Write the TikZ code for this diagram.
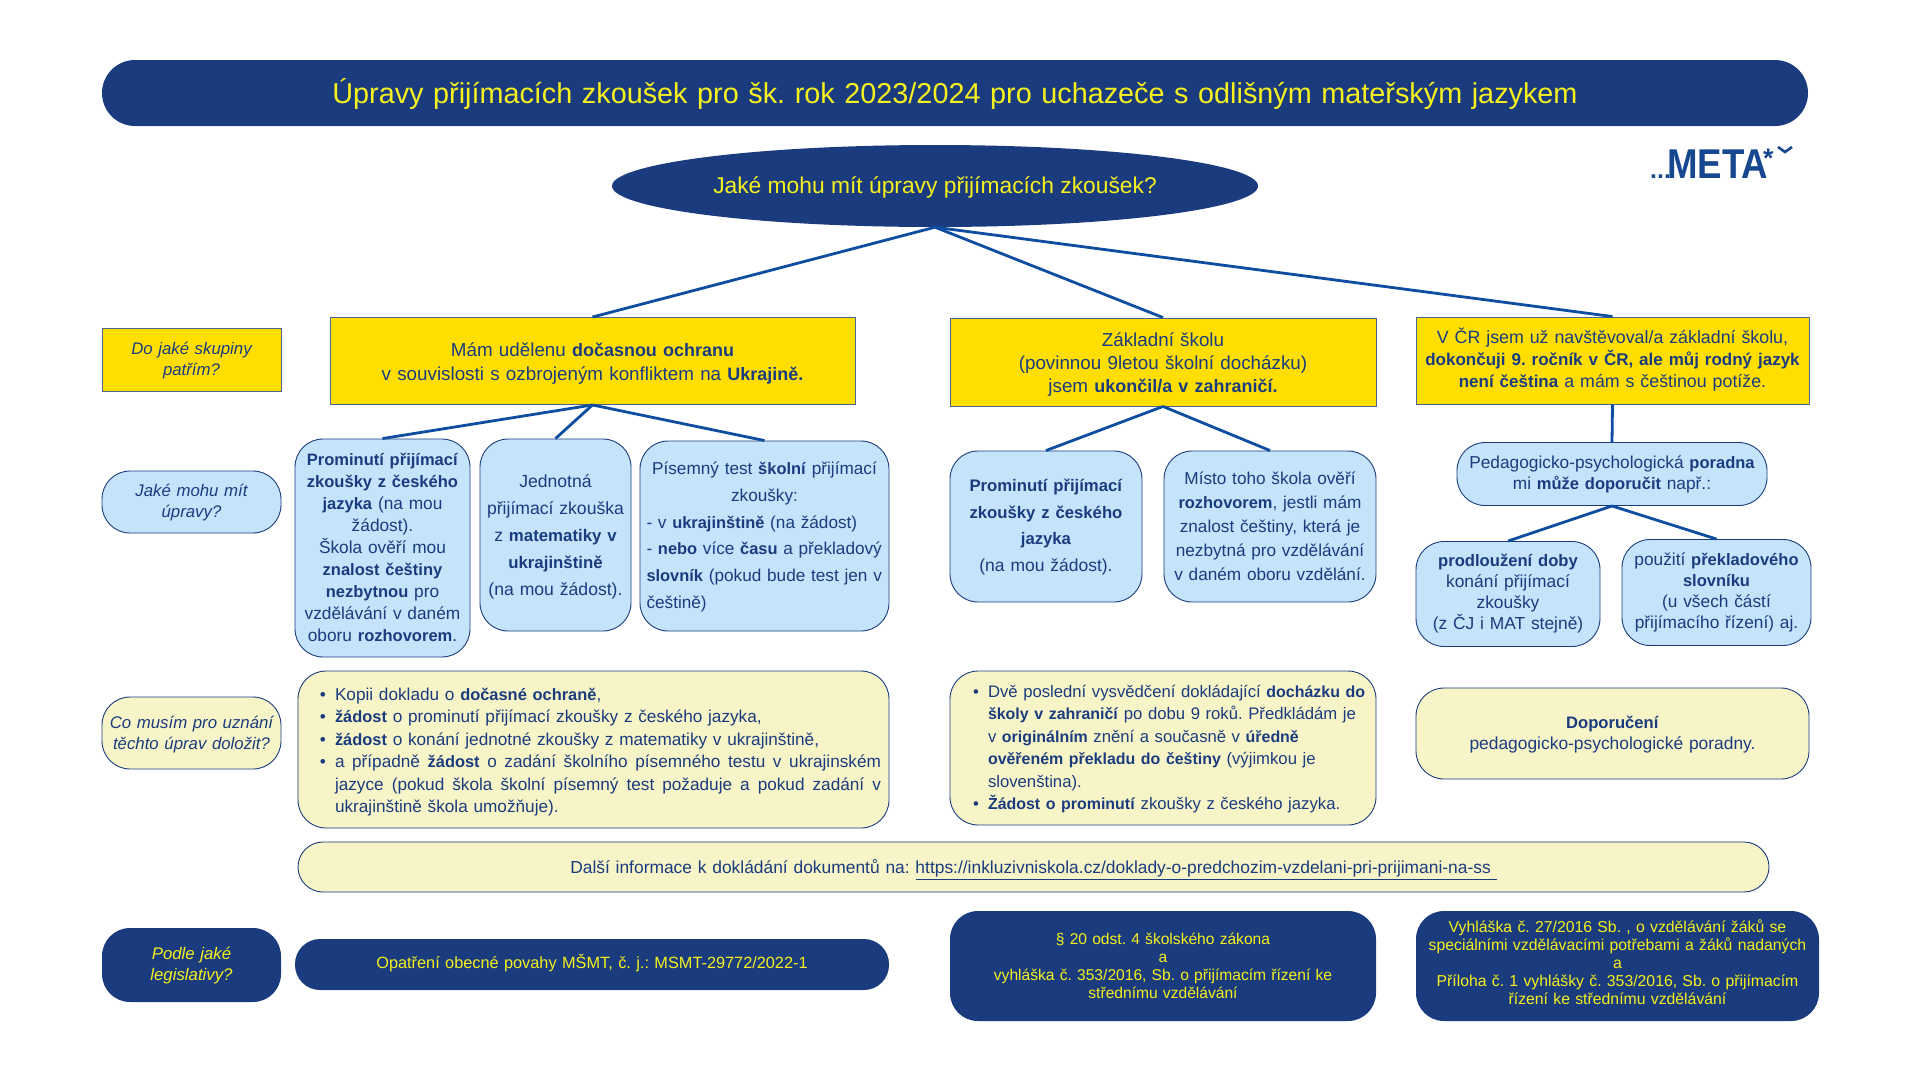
\documentclass[tikz,border=0pt]{standalone}
\usepackage{fontspec}
\setmainfont[BoldFont={Liberation Sans Bold}, BoldFeatures={Scale=0.955}]{Liberation Sans}
\usepackage{xcolor}
\usetikzlibrary{shapes.geometric}
\definecolor{navy}{HTML}{1A3C7E}
\definecolor{linkblue}{HTML}{0F4DA0}
\definecolor{metablue}{HTML}{17478F}
\definecolor{gold}{HTML}{FFDE00}
\definecolor{lightblue}{HTML}{C5E3FB}
\definecolor{cream}{HTML}{F7F5C8}
\definecolor{lemon}{HTML}{F5F01E}
\newcommand{\tsize}[2]{\fontsize{#1}{#2}\selectfont}
\newcommand{\fullline}[1]{\makebox[546pt][s]{\spaceskip=0.28em plus 1fil\relax #1}}
\newenvironment{dotlist}{\begin{list}{\textbullet}{\setlength{\leftmargin}{30pt}\setlength{\labelsep}{9pt}\setlength{\labelwidth}{13pt}\setlength{\itemsep}{0pt}\setlength{\parsep}{0pt}\setlength{\topsep}{0pt}\setlength{\partopsep}{0pt}\setlength{\rightmargin}{0pt}}}{\end{list}}
\tikzset{
	boxy/.style={inner sep=0pt, text=navy, align=center, font=\tsize{17.3}{22}},
	goldbox/.style={boxy, fill=gold, draw=navy!80, line width=0.9pt},
	bluebox/.style={boxy, fill=lightblue, draw=navy, line width=0.9pt, rounded corners=28pt},
	creambox/.style={boxy, fill=cream, draw=navy, line width=0.9pt, rounded corners=28pt},
	navybox/.style={boxy, fill=navy, text=lemon, rounded corners=28pt},
	quest/.style={font=\itshape\tsize{16.8}{21}},
	link/.style={draw=linkblue, line width=2.8pt},
	size/.style 2 args={minimum width=#1pt, minimum height=#2pt, text width=#1pt},
	drop/.style={execute at end node={\par\kern-#1pt}}
}
\begin{document}
\frenchspacing
\begin{tikzpicture}[x=1pt, y=-1pt]
	\useasboundingbox (0,0) rectangle (1920,1080);
	\fill[white] (0,0) rectangle (1920,1080);
	% top
	\node[navybox, size={1706}{66}, drop=2.5, rounded corners=33pt, font=\tsize{28.8}{34}] (title) at (955,93) {Úpravy přijímacích zkoušek pro šk. rok 2023/2024 pro uchazeče s odlišným mateřským jazykem};
	\node[boxy, ellipse, fill=navy, text=lemon, minimum width=646pt, minimum height=82pt, font=\tsize{22.8}{26}] (main) at (935,186) {\raisebox{-7.5pt}[0pt][0pt]{Jaké mohu mít úpravy přijímacích zkoušek?}};
	% logo
	\node[text=metablue, inner sep=0pt, font=\bfseries\tsize{26}{26}, anchor=base west] (dots) at (1650,178) {...};
	\node[text=metablue, inner sep=0pt, font=\bfseries\tsize{43.6}{44}, anchor=base west] (meta) at (1667,178) {\scalebox{0.88}[1]{META}};
	\node[text=metablue, inner sep=0pt, font=\bfseries\tsize{28}{28}, anchor=base west] (star) at (1763,167) {*};
	\draw[metablue, line width=2.6pt] (1778,147) -- (1785,152) -- (1792,147);
	% row 1
	\node[goldbox, quest, size={179}{63}, drop=2.5] (q1) at (191.5,359.5) {Do jaké skupiny\\patřím?};
	\node[goldbox, size={525}{87}, drop=5, font=\tsize{18.8}{24}] (g1) at (592.5,361) {Mám udělenu \textbf{dočasnou ochranu}\\v souvislosti s ozbrojeným konfliktem na \textbf{Ukrajině.}};
	\node[goldbox, size={426}{88}, drop=5, font=\tsize{18.8}{23}] (g2) at (1163,362) {Základní školu\\(povinnou 9letou školní docházku)\\jsem \textbf{ukončil/a v zahraničí.}};
	\node[goldbox, size={393}{87}, drop=-2.5, font=\tsize{17.8}{22}] (g3) at (1612.5,360.5) {V ČR jsem už navštěvoval/a základní školu,\\\textbf{dokončuji 9. ročník v ČR, ale můj rodný jazyk}\\\textbf{není čeština} a mám s češtinou potíže.};
	% row 2
	\node[bluebox, quest, size={179}{62}, drop=1.2] (q2) at (191.5,502) {Jaké mohu mít\\úpravy?};
	\node[bluebox, size={175}{218}, drop=-1] (b1) at (382.5,548) {\textbf{Prominutí přijímací}\\\textbf{zkoušky z českého}\\\textbf{jazyka} (na mou\\žádost).\\Škola ověří mou\\\textbf{znalost češtiny}\\\textbf{nezbytnou} pro\\vzdělávání v daném\\oboru \textbf{rozhovorem}.};
	\node[bluebox, size={151}{192}, drop=3.5, font=\tsize{17.6}{27}] (b2) at (555.5,535) {Jednotná\\přijímací zkouška\\z \textbf{matematiky v}\\\textbf{ukrajinštině}\\(na mou žádost).};
	\node[bluebox, size={249}{190}, drop=2, font=\tsize{17.2}{26.7}] (b3) at (764.5,536) {\begin{minipage}{236pt}\centering Písemný test \textbf{školní} přijímací\\zkoušky:\par\raggedright - v \textbf{ukrajinštině} (na žádost)\\- \textbf{nebo} více \textbf{času} a překladový\\\textbf{slovník} (pokud bude test jen v\\češtině)\end{minipage}};
	\node[bluebox, size={192}{151}, drop=1.5, font=\tsize{17.5}{26.5}] (b4) at (1046,526.5) {\textbf{Prominutí přijímací}\\\textbf{zkoušky z českého}\\\textbf{jazyka}\\(na mou žádost).};
	\node[bluebox, size={212}{151}, font=\tsize{17.2}{24}] (b5) at (1270,526.5) {Místo toho škola ověří\\\textbf{rozhovorem}, jestli mám\\znalost češtiny, která je\\nezbytná pro vzdělávání\\v daném oboru vzdělání.};
	\node[bluebox, size={310}{63}, drop=1, font=\tsize{17.3}{21.5}] (b6) at (1612,474) {Pedagogicko-psychologická \textbf{poradna}\\mi \textbf{může doporučit} např.:};
	\node[bluebox, size={184}{105}, font=\tsize{17.4}{21}] (b7) at (1508,594) {\textbf{prodloužení doby}\\konání přijímací\\zkoušky\\(z ČJ i MAT stejně)};
	\node[bluebox, size={189}{106}, font=\tsize{17.3}{21}] (b8) at (1716.5,592.5) {použití \textbf{překladového}\\\textbf{slovníku}\\(u všech částí\\přijímacího řízení) aj.};
	% row 3
	\node[creambox, quest, size={179}{72}, drop=2.5] (q3) at (191.5,733) {Co musím pro uznání\\těchto úprav doložit?};
	\node[creambox, size={591}{157}, drop=5, font=\tsize{17.2}{22.5}] (c1) at (593.5,749.5) {\begin{minipage}{577pt}\raggedright\begin{dotlist}
		\item Kopii dokladu o \textbf{dočasné ochraně},
		\item \textbf{žádost} o prominutí přijímací zkoušky z českého jazyka,
		\item \textbf{žádost} o konání jednotné zkoušky z matematiky v ukrajinštině,
		\item \fullline{a případně \textbf{žádost} o zadání školního písemného testu v ukrajinském}\\\fullline{jazyce (pokud škola školní písemný test požaduje a pokud zadání v}\\ukrajinštině škola umožňuje).
	\end{dotlist}\end{minipage}};
	\node[creambox, size={426}{154}, drop=2.5, font=\tsize{16.7}{22.5}] (c2) at (1163,748) {\begin{minipage}{410pt}\raggedright\begin{dotlist}
		\item Dvě poslední vysvědčení dokládající \textbf{docházku do}\\\textbf{školy v zahraničí} po dobu 9 roků. Předkládám je\\v \textbf{originálním} znění a současně v \textbf{úředně}\\\textbf{ověřeném překladu do češtiny} (výjimkou je\\slovenština).
		\item \textbf{Žádost o prominutí} zkoušky z českého jazyka.
	\end{dotlist}\end{minipage}};
	\node[creambox, size={393}{91}, drop=2.5, font=\tsize{17.4}{21.5}] (c3) at (1612.5,733.5) {\textbf{Doporučení}\\pedagogicko-psychologické poradny.};
	\node[creambox, size={1471}{50}, drop=5, font=\tsize{17.4}{21.5}, rounded corners=25pt] (c4) at (1033.5,867) {Další informace k dokládání dokumentů na: \underline{https://inkluzivniskola.cz/doklady-o-predchozim-vzdelani-pri-prijimani-na-ss\ }};
	% row 4
	\node[navybox, quest, size={179}{74}, drop=1.2] (q4) at (191.5,965) {Podle jaké\\legislativy?};
	\node[navybox, size={594}{51}, drop=-2.5, font=\tsize{16.3}{21.5}, rounded corners=25pt] (d1) at (592,964.5) {Opatření obecné povahy MŠMT, č. j.: MSMT-29772/2022-1};
	\node[navybox, size={426}{110}, font=\tsize{15.6}{18}] (d2) at (1163,966) {§ 20 odst. 4 školského zákona\\a\\vyhláška č. 353/2016, Sb. o přijímacím řízení ke\\střednímu vzdělávání};
	\node[navybox, size={403}{110}, drop=-7, font=\tsize{15.8}{18}] (d3) at (1617.5,966) {Vyhláška č. 27/2016 Sb. , o vzdělávání žáků se\\speciálními vzdělávacími potřebami a žáků nadaných\\a\\Příloha č. 1 vyhlášky č. 353/2016, Sb. o přijímacím\\řízení ke střednímu vzdělávání};
	% connectors
	\draw[link] (main.south) -- (g1.north);
	\draw[link] (main.south) -- (g2.north);
	\draw[link] (main.south) -- (g3.north);
	\draw[link] (g1.south) -- (b1.north); \draw[link] (g1.south) -- (b2.north); \draw[link] (g1.south) -- (b3.north);
	\draw[link] (g2.south) -- (b4.north); \draw[link] (g2.south) -- (b5.north);
	\draw[link] (g3.south) -- (b6.north);
	\draw[link] (b6.south) -- (b7.north); \draw[link] (b6.south) -- (b8.north);
\end{tikzpicture}
\end{document}
